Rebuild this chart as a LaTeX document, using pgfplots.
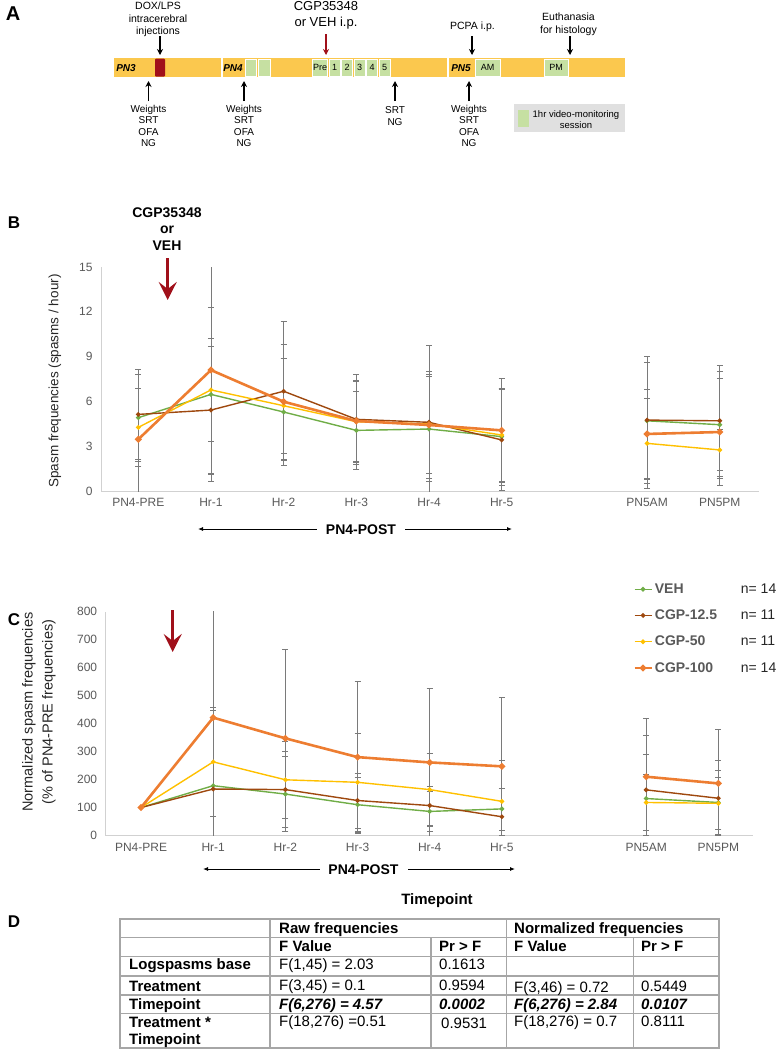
\documentclass[border=0pt]{standalone}
\usepackage{fontspec}
\setmainfont{Liberation Sans}
\usepackage{pgfplots}
\pgfplotsset{compat=1.18}
\usepackage{pgfplotstable}
\usetikzlibrary{arrows.meta}
\definecolor{cveh}{HTML}{70AD47}
\definecolor{cbrown}{HTML}{9E480E}
\definecolor{cyellow}{HTML}{FFC000}
\definecolor{corange}{HTML}{ED7D31}
\definecolor{errgray}{HTML}{7A7A7A}
\definecolor{labgray}{HTML}{595959}
\definecolor{bargold}{HTML}{FBC84E}
\definecolor{darkred}{HTML}{A0101A}
\definecolor{boxgreen}{HTML}{C6E0A2}
\definecolor{tabgray}{HTML}{A6A6A6}
\newcommand\fs[1]{\fontsize{#1pt}{#1pt}\selectfont}

\pgfplotstableread{
x   veh  vehe  cga  cgae  cgb  cgbe  cgc  cgce
0   4.91 2.90  5.13 3.00  4.26 2.60  3.46 4.70
1   6.47 5.80  5.42 4.25  6.77 3.45  8.10 6.97
2   5.29 3.60  6.68 4.66  5.71 3.18  5.98 3.84
3   4.06 2.64  4.80 3.04  4.64 2.70  4.69 2.70
4   4.15 3.50  4.60 5.18  4.49 3.30  4.42 3.57
5   3.64 3.24  3.42 3.40  3.75 3.13  4.06 3.49
6   nan  nan   nan  nan   nan  nan   nan  nan
7   4.70 3.90  4.75 4.25  3.19 3.00  3.82 3.00
8   4.44 3.60  4.70 3.70  2.75 1.40  3.95 3.60
}\rawdata

\pgfplotstableread{
x   veh  vehe  cga  cgae  cgb  cgbe  cgc  cgce
0   100  0     100  0     100  0     100  0
1   178  270   166  280   263  195   421  450
2   148  133   164  136   199  138   347  318
3   110  98    125  98    190  175   280  272
4   86   71    107  70    164  130   261  265
5   95   75    67   101   122  145   247  246
6   nan  nan   nan  nan   nan  nan   nan  nan
7   132  159   163  193   118  99    210  208
8   118  113   133  134   115  93    186  192
}\normdata

\pgfplotsset{
  eb/.style={error bars/.cd, y dir=both, y explicit,
    error bar style={errgray, line width=0.9pt},
    error mark options={errgray, rotate=90, mark size=3pt, line width=0.8pt}},
  mychart/.style={
    scale only axis, anchor=south west,
    ymin=0,
    xtick={0,1,2,3,4,5,7,8},
    xticklabels={PN4-PRE,Hr-1,Hr-2,Hr-3,Hr-4,Hr-5,PN5AM,PN5PM},
    axis x line*=bottom, axis y line*=left,
    axis line style={draw=black!18, line width=0.8pt, -},
    major tick length=0pt,
    tick label style={font=\fs{12}, text=labgray},
    xticklabel style={yshift=-4pt},
    yticklabel style={xshift=-5pt},
    /pgf/number format/assume math mode=true,
    unbounded coords=jump,
  },
  sveh/.style={cveh, line width=1.4pt, mark=*, mark size=1.6pt, mark options={solid, fill=cveh}},
  sbrown/.style={cbrown, line width=1.4pt, mark=*, mark size=1.6pt, mark options={solid, fill=cbrown}},
  syellow/.style={cyellow, line width=1.4pt, mark=*, mark size=1.6pt, mark options={solid, fill=cyellow}},
  sorange/.style={corange, line width=2.6pt, mark=*, mark size=1.8pt, mark options={solid, fill=corange}},
}

\begin{document}
\begin{tikzpicture}
\path[use as bounding box] (0pt,0pt) rectangle (780pt,-1050pt);

% ---------------- Panel B ----------------
\begin{axis}[mychart, at={(101pt,-491pt)}, width=658pt, height=224pt,
  xmin=-0.513, xmax=8.54, ymax=15, ytick={0,3,...,15}]
\addplot[sveh, eb] table[x=x, y=veh, y error=vehe] \rawdata;
\addplot[sbrown, eb] table[x=x, y=cga, y error=cgae] \rawdata;
\addplot[syellow, eb] table[x=x, y=cgb, y error=cgbe] \rawdata;
\addplot[sorange, eb] table[x=x, y=cgc, y error=cgce] \rawdata;
\end{axis}

% ---------------- Panel C ----------------
\begin{axis}[mychart, at={(105.7pt,-835.5pt)}, width=647.3pt, height=224pt,
  xmin=-0.49, xmax=8.48, ymax=800, ytick={0,100,...,800},
  legend style={at={(0.810,1.143)}, anchor=north west, draw=none, fill=none,
    font=\fs{14}\bfseries, text=labgray, row sep=11pt},
  legend cell align=left]
\addplot[sveh, eb] table[x=x, y=veh, y error=vehe] \normdata;
\addlegendentry{\makebox[86pt][l]{VEH}{\mdseries\color{black!85}n= 14}}
\addplot[sbrown, eb] table[x=x, y=cga, y error=cgae] \normdata;
\addlegendentry{\makebox[86pt][l]{CGP-12.5}{\mdseries\color{black!85}n= 11}}
\addplot[syellow, eb] table[x=x, y=cgb, y error=cgbe] \normdata;
\addlegendentry{\makebox[86pt][l]{CGP-50}{\mdseries\color{black!85}n= 11}}
\addplot[sorange, eb] table[x=x, y=cgc, y error=cgce] \normdata;
\addlegendentry{\makebox[86pt][l]{CGP-100}{\mdseries\color{black!85}n= 14}}
\end{axis}

\begin{scope}[x=1pt,y=-1pt]
% ---------------- Panel A ----------------
\node[font=\fs{20}\bfseries, anchor=base] at (13,20) {A};
\fill[bargold] (114,58) rectangle (625,77);
\fill[white] (220.5,58) rectangle (222.5,77);
\fill[white] (446.5,58) rectangle (448.5,77);
\fill[darkred, rounded corners=1pt] (155,58.5) rectangle (165,76.5);
\foreach \a/\b in {245/256.5, 258.5/270, 312.5/327.5, 329/340, 341.5/352.5, 354/365, 366.5/377.5, 379/390, 475/500, 544/568}
  \filldraw[fill=boxgreen, draw=white, line width=0.8pt] (\a,59) rectangle (\b,76);
\node[font=\fs{10}\bfseries\itshape, anchor=base] at (126,71) {PN3};
\node[font=\fs{10}\bfseries\itshape, anchor=base] at (233,71) {PN4};
\node[font=\fs{10}\bfseries\itshape, anchor=base] at (461,71) {PN5};
\foreach \t/\xx in {Pre/320, 1/334.5, 2/347, 3/359.5, 4/372, 5/384.5}
  \node[font=\fs{9}, anchor=base] at (\xx,70.5) {\t};
\node[font=\fs{9}, anchor=base] at (487.5,70.5) {AM};
\node[font=\fs{9}, anchor=base] at (556,70.5) {PM};
% top annotations
\node[font=\fs{10.5}, anchor=base] at (158,9) {DOX/LPS};
\node[font=\fs{10.5}, anchor=base] at (158,22) {intracerebral};
\node[font=\fs{10.5}, anchor=base] at (158,34) {injections};
\node[font=\fs{13}, anchor=base] at (326,10.5) {CGP35348};
\node[font=\fs{13}, anchor=base] at (326,26) {or VEH i.p.};
\node[font=\fs{10.5}, anchor=base] at (472.5,29) {PCPA i.p.};
\node[font=\fs{10.5}, anchor=base] at (568.5,20.5) {Euthanasia};
\node[font=\fs{10.5}, anchor=base] at (568.5,33) {for histology};
\foreach \xx in {160,472,570}
  \draw[-{Stealth[length=6pt,width=6pt]}, line width=1.1pt] (\xx,36) -- (\xx,55);
\draw[-{Stealth[length=6pt,width=6pt]}, line width=1.1pt, darkred] (326,34) -- (326,55);
% bottom annotations
\foreach \xx in {148.5,244,395,469}
  \draw[-{Stealth[length=6pt,width=6pt]}, line width=1.1pt] (\xx,101) -- (\xx,81);
\foreach \xx in {148.5,244,469}{
  \node[font=\fs{10}, anchor=base] at (\xx,112) {Weights};
  \node[font=\fs{10}, anchor=base] at (\xx,123) {SRT};
  \node[font=\fs{10}, anchor=base] at (\xx,135) {OFA};
  \node[font=\fs{10}, anchor=base] at (\xx,146.5) {NG};
}
\node[font=\fs{10}, anchor=base] at (395,113) {SRT};
\node[font=\fs{10}, anchor=base] at (395,125.5) {NG};
\fill[black!12] (514,104) rectangle (625,132);
\fill[boxgreen] (517.5,110) rectangle (528.5,126.5);
\node[font=\fs{9.5}, anchor=base] at (576,117) {1hr video-monitoring};
\node[font=\fs{9.5}, anchor=base] at (576,128) {session};

% ---------------- Panel B annotations ----------------
\node[font=\fs{17}\bfseries, anchor=base] at (14,228) {B};
\node[font=\fs{14}\bfseries, anchor=base] at (167,217) {CGP35348};
\node[font=\fs{14}\bfseries, anchor=base] at (167,233) {or};
\node[font=\fs{14}\bfseries, anchor=base] at (167,250) {VEH};
\draw[darkred, line width=3.5pt, -{Stealth[length=18pt,width=18pt,inset=7pt]}] (167.7,258) -- (167.7,300);
\node[font=\fs{13.5}, rotate=90, text=black!85] at (55,381) {Spasm frequencies (spasms / hour)};
\draw[{Latex[length=5pt,width=4pt]}-, line width=0.9pt] (198,529) -- (317,529);
\draw[-{Latex[length=5pt,width=4pt]}, line width=0.9pt] (405,529) -- (512,529);
\node[font=\fs{14}\bfseries, anchor=base] at (361,534) {PN4-POST};

% ---------------- Panel C annotations ----------------
\node[font=\fs{17}\bfseries, anchor=base] at (14,625) {C};
\draw[darkred, line width=3.5pt, -{Stealth[length=18pt,width=18pt,inset=7pt]}] (172.7,610) -- (172.7,652);
\node[font=\fs{14.5}, rotate=90, text=black!85] at (29,712) {Normalized spasm frequencies};
\node[font=\fs{14.5}, rotate=90, text=black!85] at (49,712) {(\% of PN4-PRE frequencies)};
\draw[{Latex[length=5pt,width=4pt]}-, line width=0.9pt] (203,869) -- (320,869);
\draw[-{Latex[length=5pt,width=4pt]}, line width=0.9pt] (408,869) -- (515,869);
\node[font=\fs{14}\bfseries, anchor=base] at (363.5,874) {PN4-POST};
\node[font=\fs{15}\bfseries, anchor=base] at (437,904.5) {Timepoint};

% ---------------- Panel D table ----------------
\node[font=\fs{17}\bfseries, anchor=base] at (14,927) {D};
\begin{scope}[tabgray, line width=1.2pt]
\draw (120,919) rectangle (719,1048);
\foreach \yy in {937.3,956.7,976,995,1013.3} \draw (120,\yy) -- (719,\yy);
\draw (270,919) -- (270,1048);
\draw (506.7,919) -- (506.7,1048);
\draw (431,937.3) -- (431,1048);
\draw (633.3,937.3) -- (633.3,1048);
\end{scope}
\newcommand\tc[4]{\node[font=\fs{15}#4, anchor=base west, inner sep=0pt] at (#1,#2+5.3) {#3};}
\tc{279}{928.3}{Raw frequencies}{\bfseries}
\tc{514}{928.3}{Normalized frequencies}{\bfseries}
\tc{279}{946.5}{F Value}{\bfseries}
\tc{439}{946.5}{Pr > F}{\bfseries}
\tc{514}{946.5}{F Value}{\bfseries}
\tc{641}{946.5}{Pr > F}{\bfseries}
\tc{129}{964.5}{Logspasms base}{\bfseries}
\tc{279}{964.5}{F(1,45) = 2.03}{}
\tc{439}{964.5}{0.1613}{}
\tc{129}{986}{Treatment}{\bfseries}
\tc{279}{985.5}{F(3,45) = 0.1}{}
\tc{439}{985.5}{0.9594}{}
\tc{514}{987}{F(3,46) = 0.72}{}
\tc{641}{986}{0.5449}{}
\tc{129}{1004}{Timepoint}{\bfseries}
\tc{279}{1004}{F(6,276) = 4.57}{\bfseries\itshape}
\tc{439}{1004}{0.0002}{\bfseries\itshape}
\tc{514}{1004}{F(6,276) = 2.84}{\bfseries\itshape}
\tc{641}{1004}{0.0107}{\bfseries\itshape}
\tc{129}{1022}{Treatment *}{\bfseries}
\tc{279}{1021.5}{F(18,276) =0.51}{}
\tc{441}{1023}{0.9531}{}
\tc{514}{1021.5}{F(18,276) = 0.7}{}
\tc{641}{1021.5}{0.8111}{}
\tc{129}{1039.5}{Timepoint}{\bfseries}
\end{scope}
\end{tikzpicture}
\end{document}
